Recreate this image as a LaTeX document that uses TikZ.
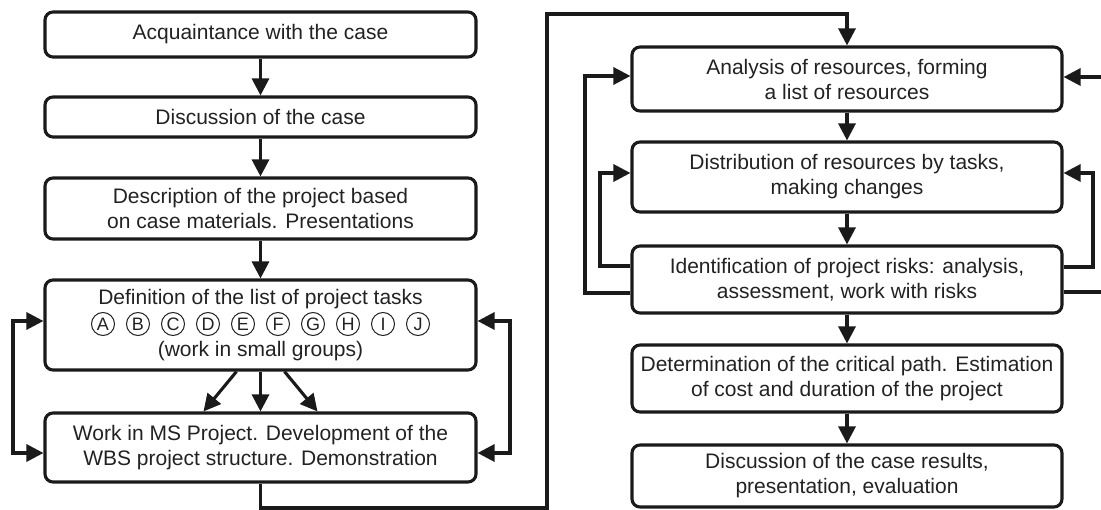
\documentclass[tikz,border=0pt]{standalone}
\usepackage{fontspec}
\setmainfont{Liberation Sans}
\usetikzlibrary{arrows.meta,calc}
\definecolor{ink}{HTML}{1A1A1A}
\definecolor{txt}{HTML}{222222}
\begin{document}
\begin{tikzpicture}[x=1pt,y=-1pt,
  box/.style={draw=ink, line width=3.1pt, rounded corners=8pt, align=center, inner sep=0pt,
    font=\fontsize{21}{25}\selectfont, text=txt},
  lbl/.style={inner sep=0pt, font=\fontsize{21}{25}\selectfont, text=txt},
  arr/.style={draw=ink, line width=3.1pt, -{Triangle[length=17pt,width=17pt]}},
  darr/.style={draw=ink, line width=3.1pt, {Triangle[length=17pt,width=17pt]}-{Triangle[length=17pt,width=17pt]}},
  ln/.style={draw=ink, line width=3.1pt},
  circ/.style={circle, draw=txt, line width=1pt, minimum size=23pt, inner sep=0pt,
    font=\fontsize{18}{18}\selectfont, text=txt}]
\useasboundingbox (0,0) rectangle (1101,510);

% left column
\node[box, minimum width=431pt, minimum height=45pt] (b1) at (260.5,34.5) {Acquaintance with the case};
\node[box, minimum width=431pt, minimum height=40pt] (b2) at (260.5,117) {Discussion of the case};
\node[box, minimum width=431pt, minimum height=61pt] (b3) at (260.5,208.5) {Description of the project based\\on case materials. Presentations};
\node[box, minimum width=431pt, minimum height=90pt] (b4) at (260.5,325) {};
\node[lbl, anchor=base] (b4a) at (260.5,305) {Definition of the list of project tasks};
\foreach \l [count=\i from 0] in {A,B,C,D,E,F,G,H,I,J}
  \node[circ] (c\l) at (103+35*\i,324) {\l};
\node[lbl, anchor=base] (b4c) at (260.5,357) {(work in small groups)};
\node[box, minimum width=431pt, minimum height=69pt] (b5) at (260.5,447.5) {Work in MS Project. Development of the\\WBS project structure. Demonstration};

% right column
\node[box, minimum width=430pt, minimum height=64pt] (b6) at (847,79) {Analysis of resources, forming\\a list of resources};
\node[box, minimum width=430pt, minimum height=70pt] (b7) at (847,177) {Distribution of resources by tasks,\\making changes};
\node[box, minimum width=430pt, minimum height=67pt] (b8) at (847,279.5) {Identification of project risks: analysis,\\assessment, work with risks};
\node[box, minimum width=430pt, minimum height=67pt] (b9) at (847,378.5) {Determination of the critical path. Estimation\\of cost and duration of the project};
\node[box, minimum width=430pt, minimum height=62pt] (b10) at (847,476) {Discussion of the case results,\\presentation, evaluation};

\coordinate (rE1) at (1101,77);
\coordinate (rE2) at (1101,292);

% left column connectors
\draw[arr] (b1.south) -- (b2.north);
\draw[arr] (b2.south) -- (b3.north);
\draw[arr] (b3.south) -- (b4.north);
\draw[arr] ($(b4.south)+(-24,0)$) -- ($(b5.north)+(-57,0)$);
\draw[arr] (b4.south) -- (b5.north);
\draw[arr] ($(b4.south)+(24,0)$) -- ($(b5.north)+(57,0)$);
\draw[darr] ([yshift=4pt]b4.west) -| (13,387) |- ([yshift=-5.5pt]b5.west);
\draw[darr] ([yshift=4pt]b4.east) -| (510,387) |- ([yshift=-5.5pt]b5.east);

% main link
\draw[arr] (b5.south) |- (547,508) -- (547,14) -| (b6.north);

% right column connectors
\draw[arr] (b6.south) -- (b7.north);
\draw[arr] (b7.south) -- (b8.north);
\draw[arr] (b8.south) -- (b9.north);
\draw[arr] (b9.south) -- (b10.north);
\draw[arr] ([yshift=-13.5pt]b8.west) -| (585,180) |- ([yshift=3pt]b6.west);
\draw[arr] ([yshift=13.5pt]b8.west) -| (600,220) |- ([yshift=4pt]b7.west);
\draw[arr] ([yshift=12.5pt]b8.east) -| (1093,220) |- ([yshift=4pt]b7.east);
\draw[arr] (rE1) -- ([yshift=2pt]b6.east);
\draw[ln] ([yshift=-12.5pt]b8.east) -- (rE2);
\end{tikzpicture}
\end{document}
